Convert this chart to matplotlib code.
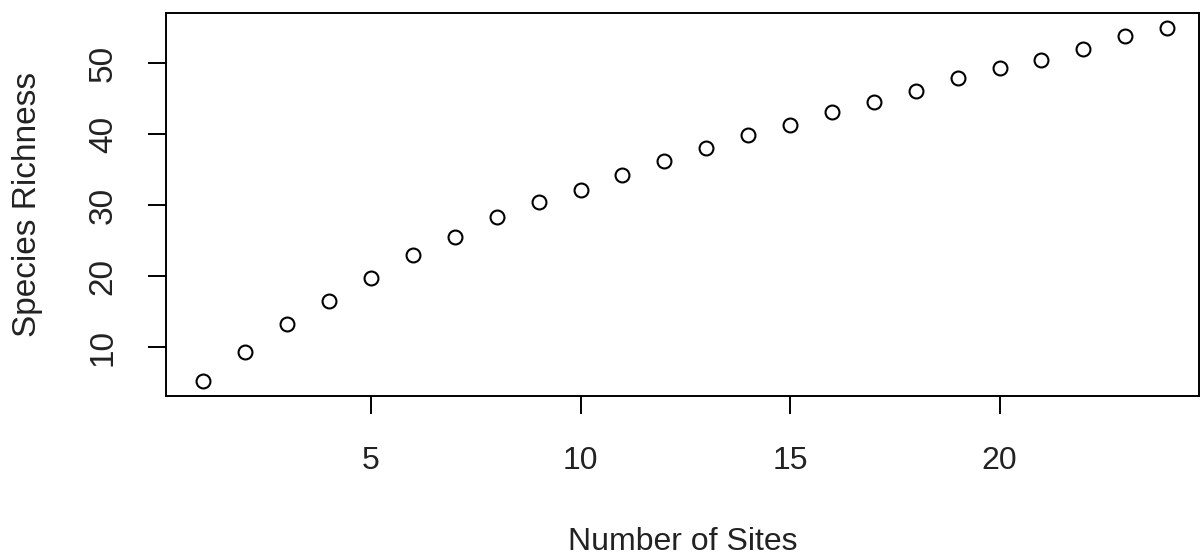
import matplotlib
matplotlib.use("Agg")
import matplotlib.pyplot as plt

# ── Dados ────────────────────────────────────────────────────────────────────

sites = list(range(1, 25))
richness = [5.25, 9.4, 13.3, 16.5, 19.8, 23.0, 25.6, 28.3, 30.4, 32.2,
            34.3, 36.3, 38.1, 39.9, 41.3, 43.1, 44.6, 46.1, 47.9, 49.3,
            50.5, 52.0, 53.85, 54.9]

x_ticks = [5, 10, 15, 20]
y_ticks = [10, 20, 30, 40, 50]

# ── Plot ─────────────────────────────────────────────────────────────────────

plt.rcParams.update({
    "font.family": ["Liberation Sans", "DejaVu Sans"],
    "figure.facecolor": "white",
    "axes.facecolor": "white",
})

fig = plt.figure(figsize=(12, 5.57), dpi=100)
ax = fig.add_axes([166 / 1200, 161 / 557, 1033 / 1200, 382.7 / 557])

ax.plot(sites, richness, "o", markersize=10, markerfacecolor="none",
        markeredgecolor="black", markeredgewidth=1.5)

ax.set_xlim(0.107, 24.76)
ax.set_ylim(3.14, 57.04)
ax.set_xticks(x_ticks)
ax.set_yticks(y_ticks)
ax.set_yticklabels([str(v) for v in y_ticks], rotation=90, va="center")

for s in ax.spines.values():
    s.set_linewidth(1.4)
ax.tick_params(axis="both", length=13, width=1.4, labelcolor="#222222")
ax.tick_params(axis="x", pad=23, labelsize=23)
ax.tick_params(axis="y", pad=21, labelsize=24)

ax.set_xlabel("Number of Sites", fontsize=23, color="#222222", labelpad=37)
ax.set_ylabel("Species Richness", fontsize=24, color="#222222", labelpad=32)

fig.savefig("out.png", dpi=100, facecolor="white")
